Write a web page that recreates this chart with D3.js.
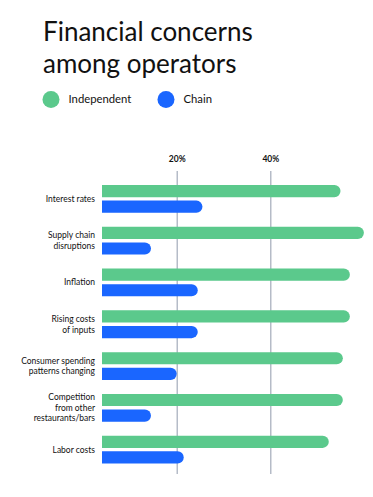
<!DOCTYPE html>
<meta charset="utf-8">
<title>Financial concerns among operators</title>
<script src="https://d3js.org/d3.v7.min.js"></script>
<style>
  body { margin: 0; background: #fff; }
  text { font-family: Lato, "Noto Sans", sans-serif; fill: #111; }
</style>
<body>
<script>

// Data
const categories = [
  ["Interest rates"],
  ["Supply chain", "disruptions"],
  ["Inflation"],
  ["Rising costs", "of inputs"],
  ["Consumer spending", "patterns changing"],
  ["Competition", "from other", "restaurants/bars"],
  ["Labor costs"]
];
const seriesNames = ["Independent", "Chain"];
const independent = [55, 60, 57, 57, 55.5, 55.5, 52.5];
const chain = [25.5, 14.5, 24.5, 24.5, 20, 14.5, 21.5];
const tickValues = [20, 40];
const colors = ["#5bc98c", "#1a66ff"];

const width = 373, height = 497;

const svg = d3.select("body").append("svg")
  .attr("width", width)
  .attr("height", height);

// Title
const title = svg.append("text")
  .attr("x", 43)
  .attr("y", 41)
  .style("font-size", "26px");
title.append("tspan").attr("x", 43).text("Financial concerns");
title.append("tspan").attr("x", 43).attr("dy", 32).text("among operators");

// Legend
const legend = svg.append("g").selectAll("g")
  .data(seriesNames)
  .join("g")
  .attr("transform", (d, i) => `translate(${[51, 166][i]}, 99.5)`);
legend.append("circle")
  .attr("r", 8.5)
  .attr("fill", (d, i) => colors[i]);
legend.append("text")
  .attr("x", 17.5)
  .attr("dy", "0.35em")
  .style("font-size", "11.3px")
  .text(d => d);

// Scales
const labels = categories.map(d => d.join(" "));
const x = d3.scaleLinear().domain([0, 60]).range([83.1, 363.9]);
const y = d3.scaleBand().domain(labels).range([185, 463.5]).paddingInner(0.335);
const ySub = d3.scaleBand().domain(seriesNames).range([0, y.bandwidth()]).paddingInner(0.22);

// Gridlines + ticks
const axis = svg.append("g")
  .attr("transform", "translate(0,171)")
  .call(d3.axisTop(x).tickValues(tickValues).tickFormat(d => d + "%").tickSize(-303).tickPadding(9));
axis.select(".domain").remove();
axis.selectAll("line").attr("stroke", "#a3abba").attr("stroke-width", 1.2);
axis.selectAll("text")
  .style("font-size", "8.5px")
  .style("font-weight", "bold")
  .style("font-family", "Lato, sans-serif")
  .attr("fill", "#111");

// Clip bars so left ends are square
svg.append("clipPath").attr("id", "clip")
  .append("rect").attr("x", 102).attr("y", 0).attr("width", width).attr("height", height);

const groups = svg.append("g")
  .attr("clip-path", "url(#clip)")
  .selectAll("g")
  .data(labels.map((l, i) => ({ label: l, values: [independent[i], chain[i]] })))
  .join("g")
  .attr("transform", d => `translate(0,${y(d.label)})`);

groups.selectAll("rect")
  .data(d => d.values.map((v, i) => ({ key: seriesNames[i], value: v, i })))
  .join("rect")
  .attr("x", x(0) - 10)
  .attr("y", d => ySub(d.key))
  .attr("width", d => x(d.value) - x(0) + 10)
  .attr("height", ySub.bandwidth())
  .attr("rx", ySub.bandwidth() / 2)
  .attr("fill", d => colors[d.i]);

// Category labels
const lineH = 10.6;
svg.append("g").selectAll("text")
  .data(categories)
  .join("text")
  .attr("text-anchor", "end")
  .attr("y", (d, i) => y(labels[i]) + y.bandwidth() / 2 - (d.length - 1) * lineH / 2)
  .style("font-size", "8.5px")
  .each(function(d) {
    d3.select(this).selectAll("tspan")
      .data(d)
      .join("tspan")
      .attr("x", 95)
      .attr("dy", (t, j) => j === 0 ? "0.35em" : lineH)
      .text(t => t);
  });

</script>
</body>
